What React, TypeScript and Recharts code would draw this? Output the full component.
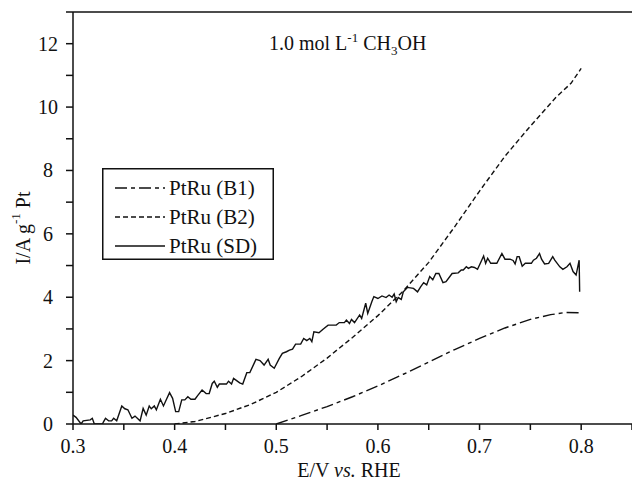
import type { FC, ReactNode } from 'react'
import { LineChart, Line, XAxis, YAxis, ReferenceLine } from 'recharts'

const FONT = "'Liberation Serif', 'Times New Roman', serif"

// PtRu (SD): noisy trace
const sdPotential = [
    0.3, 0.303, 0.308, 0.31, 0.317, 0.319, 0.321, 0.329, 0.33, 0.332, 0.335,
    0.338, 0.34, 0.343, 0.348, 0.351, 0.354, 0.358, 0.361, 0.366, 0.369, 0.372,
    0.375, 0.377, 0.38, 0.382, 0.386, 0.389, 0.392, 0.395, 0.398, 0.401, 0.404,
    0.407, 0.41, 0.413, 0.416, 0.42, 0.423, 0.427, 0.431, 0.434, 0.437, 0.439,
    0.442, 0.444, 0.451, 0.453, 0.456, 0.458, 0.461, 0.464, 0.467, 0.471, 0.474,
    0.48, 0.484, 0.488, 0.492, 0.494, 0.498, 0.503, 0.506, 0.51, 0.513, 0.516,
    0.519, 0.524, 0.527, 0.53, 0.533, 0.535, 0.537, 0.542, 0.546, 0.551, 0.559,
    0.562, 0.567, 0.569, 0.572, 0.574, 0.577, 0.582, 0.584, 0.588, 0.59, 0.594,
    0.596, 0.6, 0.604, 0.608, 0.611, 0.614, 0.616, 0.618, 0.62, 0.623, 0.625,
    0.629, 0.635, 0.639, 0.642, 0.645, 0.648, 0.651, 0.654, 0.657, 0.66, 0.664,
    0.667, 0.673, 0.679, 0.682, 0.684, 0.687, 0.689, 0.692, 0.695, 0.698, 0.701,
    0.704, 0.706, 0.708, 0.711, 0.717, 0.722, 0.725, 0.73, 0.733, 0.735, 0.737,
    0.739, 0.742, 0.745, 0.751, 0.753, 0.756, 0.759, 0.761, 0.764, 0.768, 0.772,
    0.774, 0.779, 0.782, 0.786, 0.789, 0.792, 0.795, 0.798, 0.7985
]
const sdCurrent = [
    0.28, 0.21, 0.0, 0.1, 0.13, 0.18, 0.0, 0.0, 0.07, 0.18, 0.1, 0.1, 0.18, 0.1,
    0.57, 0.48, 0.45, 0.18, 0.25, 0.1, 0.49, 0.28, 0.57, 0.48, 0.57, 0.45, 0.78,
    0.57, 0.78, 0.99, 0.81, 0.39, 0.39, 0.76, 0.76, 0.86, 0.78, 0.78, 0.91, 1.07,
    0.96, 0.96, 1.28, 1.35, 1.16, 1.26, 1.26, 1.35, 1.26, 1.44, 1.37, 1.3, 1.26,
    1.62, 1.62, 2.04, 2.0, 1.86, 2.04, 1.86, 1.76, 2.07, 2.23, 2.28, 2.33, 2.36,
    2.52, 2.52, 2.7, 2.63, 2.7, 2.6, 2.91, 2.88, 2.99, 3.12, 3.12, 3.2, 3.2,
    3.28, 3.17, 3.3, 3.2, 3.44, 3.33, 3.81, 3.49, 3.86, 4.02, 3.96, 4.04, 3.99,
    4.07, 4.0, 4.1, 3.86, 3.99, 3.93, 4.17, 4.31, 4.28, 4.17, 4.33, 4.46, 4.39,
    4.65, 4.55, 4.75, 4.75, 4.46, 4.49, 4.75, 4.77, 4.86, 4.86, 4.96, 4.91, 4.96,
    4.94, 4.88, 5.09, 5.3, 5.07, 5.23, 5.07, 5.07, 5.38, 5.2, 5.2, 5.16, 5.05,
    5.28, 5.28, 4.98, 5.07, 5.07, 5.17, 5.23, 5.38, 5.2, 5.05, 5.07, 5.28, 5.17,
    4.96, 4.88, 4.96, 5.07, 4.81, 4.7, 5.17, 4.17
]

// PtRu (B2)
const b2Potential = [
    0.4, 0.42, 0.45, 0.475, 0.5, 0.525, 0.55, 0.575, 0.6, 0.625, 0.65, 0.675,
    0.7, 0.725, 0.75, 0.775, 0.79, 0.8
]
const b2Current = [
    0.0, 0.08, 0.33, 0.62, 1.0, 1.5, 2.08, 2.73, 3.42, 4.2, 5.1, 6.2, 7.35,
    8.45, 9.4, 10.3, 10.75, 11.22
]

// PtRu (B1)
const b1Potential = [
    0.5, 0.525, 0.55, 0.575, 0.6, 0.625, 0.65, 0.675, 0.7, 0.725, 0.75, 0.77,
    0.785, 0.798
]
const b1Current = [
    0.0, 0.27, 0.55, 0.86, 1.2, 1.57, 1.95, 2.34, 2.7, 3.03, 3.3, 3.45, 3.52,
    3.51
]

const xTicks = [
    0.3, 0.35, 0.4, 0.45, 0.5, 0.55, 0.6, 0.65, 0.7, 0.75, 0.8, 0.85
]
const yTicks = [0, 1, 2, 3, 4, 5, 6, 7, 8, 9, 10, 11, 12, 13]

const toPoints = (xs: number[], ys: number[]) =>
    xs.map((x, i) => ({ x, y: ys[i] }))

const SERIES = [
    {
        name: 'PtRu (B1)',
        data: toPoints(b1Potential, b1Current),
        dash: '12 4 4 4'
    },
    {
        name: 'PtRu (B2)',
        data: toPoints(b2Potential, b2Current),
        dash: '5 3'
    },
    {
        name: 'PtRu (SD)',
        data: toPoints(sdPotential, sdCurrent),
        dash: undefined
    }
]

const XTick = ({ x, y, payload }: any) => {
    const v = payload.value as number
    if (Math.round(v * 100) % 10 !== 0) return <g />
    return (
        <text
            x={x}
            y={y + 21}
            textAnchor='middle'
            fontSize={20}
            fontFamily={FONT}
            fill='#111'
        >
            {v.toFixed(1)}
        </text>
    )
}

const YTick = ({ y, payload }: any) => {
    const v = payload.value as number
    if (v % 2 !== 0) return <g />
    return (
        <text
            x={48}
            y={y + 7}
            textAnchor='middle'
            fontSize={20}
            fontFamily={FONT}
            fill='#111'
        >
            {v}
        </text>
    )
}

// legend box drawn on top of the plot
const LegendBox = (): ReactNode => (
    <svg
        width={172}
        height={92}
        style={{ position: 'absolute', left: 102, top: 168 }}
    >
        <rect
            x={0.75}
            y={0.75}
            width={170.5}
            height={90.5}
            fill='#fff'
            stroke='#111'
            strokeWidth={1.5}
        />
        {SERIES.map((s, i) => (
            <g key={s.name}>
                <line
                    x1={13}
                    x2={63}
                    y1={20 + i * 29}
                    y2={20 + i * 29}
                    stroke='#111'
                    strokeWidth={1.4}
                    strokeDasharray={s.dash}
                />
                <text
                    x={67}
                    y={27 + i * 29}
                    fontSize={21}
                    fontFamily={FONT}
                    fill='#111'
                >
                    {s.name}
                </text>
            </g>
        ))}
    </svg>
)

const App: FC = () => (
    <div
        style={{
            position: 'relative',
            width: 632,
            height: 482,
            overflow: 'hidden'
        }}
    >
        <style>{'body{margin:0}'}</style>
        <LineChart
            width={632}
            height={482}
            margin={{ top: 12, right: 0, bottom: 0, left: 0 }}
        >
            <XAxis
                type='number'
                dataKey='x'
                domain={[0.3, 0.85]}
                ticks={xTicks}
                tick={<XTick />}
                tickSize={6}
                stroke='#111'
                strokeWidth={1.5}
                height={58}
                allowDataOverflow
                label={{
                    content: () => (
                        <text
                            x={349}
                            y={477}
                            textAnchor='middle'
                            fontSize={20}
                            fontFamily={FONT}
                            fill='#111'
                        >
                            E/V <tspan fontStyle='italic'>vs.</tspan> RHE
                        </text>
                    )
                }}
            />
            <YAxis
                type='number'
                domain={[0, 13]}
                ticks={yTicks}
                tick={<YTick />}
                tickSize={7}
                stroke='#111'
                strokeWidth={1.5}
                width={73}
                allowDataOverflow
                label={{
                    content: () => (
                        <text
                            x={23}
                            y={228}
                            transform='rotate(-90, 23, 228)'
                            textAnchor='middle'
                            dominantBaseline='central'
                            fontSize={20}
                            fontFamily={FONT}
                            fill='#111'
                        >
                            I/A g<tspan dy={-8} fontSize={13}>-1</tspan>
                            <tspan dy={8}> Pt</tspan>
                        </text>
                    )
                }}
            />
            <ReferenceLine y={13} stroke='#111' strokeWidth={1.5} />
            {SERIES.map((s) => (
                <Line
                    key={s.name}
                    name={s.name}
                    data={s.data}
                    dataKey='y'
                    type='linear'
                    stroke='#111'
                    strokeWidth={1.4}
                    strokeDasharray={s.dash}
                    dot={false}
                    activeDot={false}
                    isAnimationActive={false}
                />
            ))}
        </LineChart>
        <LegendBox />
        <div
            style={{
                position: 'absolute',
                left: 269,
                top: 26,
                fontFamily: FONT,
                fontSize: 20,
                color: '#111',
                whiteSpace: 'nowrap',
                lineHeight: '24px'
            }}
        >
            1.0 mol L<sup style={{ fontSize: 13 }}>-1</sup> CH
            <sub style={{ fontSize: 13 }}>3</sub>OH
        </div>
    </div>
)

export default App
